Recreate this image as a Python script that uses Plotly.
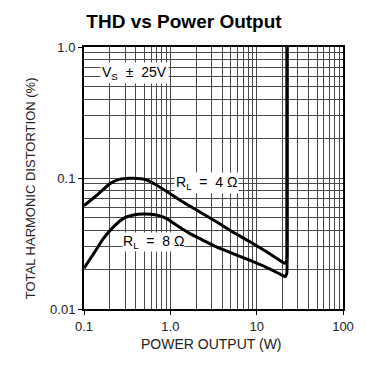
import math
import plotly.graph_objects as go

# ---- data ----
power_4ohm = [0.1, 0.142, 0.202, 0.263, 0.374, 0.531, 0.69, 0.98, 1.40, 2.17, 3.37, 5.22, 8.1, 12.6, 19.5, 21.4, 22.3, 22.5, 22.5]
thd_4ohm = [0.0615, 0.0742, 0.091, 0.098, 0.0994, 0.0966, 0.0885, 0.0764, 0.0655, 0.0553, 0.0466, 0.0389, 0.033, 0.0277, 0.023, 0.0223, 0.0235, 0.027, 1.0]

power_8ohm = [0.1, 0.130, 0.169, 0.221, 0.287, 0.374, 0.486, 0.69, 0.90, 1.17, 1.67, 2.37, 3.37, 5.22, 8.1, 12.6, 19.5, 21.4, 22.3, 22.5, 22.5]
thd_8ohm = [0.0205, 0.0266, 0.0347, 0.0425, 0.0492, 0.0522, 0.0531, 0.0522, 0.0492, 0.0438, 0.0378, 0.0336, 0.0299, 0.0266, 0.0237, 0.021, 0.0182, 0.0177, 0.0186, 0.021, 1.0]

x_major = [0.1, 1, 10, 100]
x_major_text = ["0.1", "1.0", "10", "100"]
y_major = [0.01, 0.1, 1.0]
y_major_text = ["0.01", "0.1", "1.0"]

title_text = "THD vs Power Output"
x_title = "POWER OUTPUT (W)"
y_title = "TOTAL HARMONIC DISTORTION (%)"

x_minor = [k * 10 ** n for n in (-1, 0, 1) for k in range(2, 10)]
y_minor = [k * 10 ** n for n in (-2, -1) for k in range(2, 10)]

FONT = "Liberation Sans"
GRID = "#4a4a4a"

fig = go.Figure()
for px_, py_ in ((power_4ohm, thd_4ohm), (power_8ohm, thd_8ohm)):
    fig.add_trace(go.Scatter(x=px_, y=py_, mode="lines",
                             line=dict(color="black", width=3, shape="spline", smoothing=0.5),
                             showlegend=False, hoverinfo="skip"))

axis_common = dict(
    type="log", showline=True, linecolor="black", linewidth=2, mirror=True,
    showgrid=True, gridcolor=GRID, gridwidth=1, zeroline=False,
    ticks="outside", ticklen=4, tickcolor="black",
    tickfont=dict(family=FONT, size=13, color="#222"),
)

fig.update_xaxes(range=[-1, 2], tickmode="array", tickvals=x_major, ticktext=x_major_text,
                 minor=dict(tickmode="array", tickvals=x_minor, showgrid=True,
                            gridcolor=GRID, gridwidth=1, ticks=""),
                 **axis_common)
fig.update_yaxes(range=[-2, 0], tickmode="array", tickvals=y_major, ticktext=y_major_text,
                 minor=dict(tickmode="array", tickvals=y_minor, showgrid=True,
                            gridcolor=GRID, gridwidth=1, ticks=""),
                 **axis_common)

lab_font = dict(family=FONT, size=14, color="black")
fig.add_annotation(x=math.log10(0.384), y=math.log10(0.63), xref="x", yref="y",
                   text="V<sub>S</sub>  ±  25V", showarrow=False, font=lab_font,
                   bgcolor="white", borderpad=1)
fig.add_annotation(x=0.42, y=-1.038, xref="x", yref="y",
                   text="R<sub>L</sub>  =  4 Ω", showarrow=False, font=lab_font,
                   bgcolor="white", borderpad=1)
fig.add_annotation(x=-0.19, y=-1.49, xref="x", yref="y",
                   text="R<sub>L</sub>  =  8 Ω", showarrow=False, font=lab_font,
                   bgcolor="white", borderpad=0)

fig.add_annotation(x=(213 - 84) / 262, y=(309 - 354) / 262, xref="paper", yref="paper",
                   text=x_title, showarrow=False,
                   font=dict(family=FONT, size=14, color="#222"))
fig.add_annotation(x=(20 - 84) / 262, y=(309 - 188) / 262, xref="paper", yref="paper",
                   text=y_title, showarrow=False, textangle=-90,
                   font=dict(family=FONT, size=13, color="#222"))

fig.update_layout(
    width=366, height=374,
    margin=dict(l=84, r=20, t=47, b=65),
    paper_bgcolor="white", plot_bgcolor="white",
    title=dict(text="<b>" + title_text + "</b>", x=184 / 366, xanchor="center",
               y=1 - 21 / 374, yanchor="middle",
               font=dict(family=FONT, size=19, color="black")),
)

fig.write_html("out.html", config={"displayModeBar": False},
               post_script="document.body.style.margin='0';document.body.style.padding='0';")
